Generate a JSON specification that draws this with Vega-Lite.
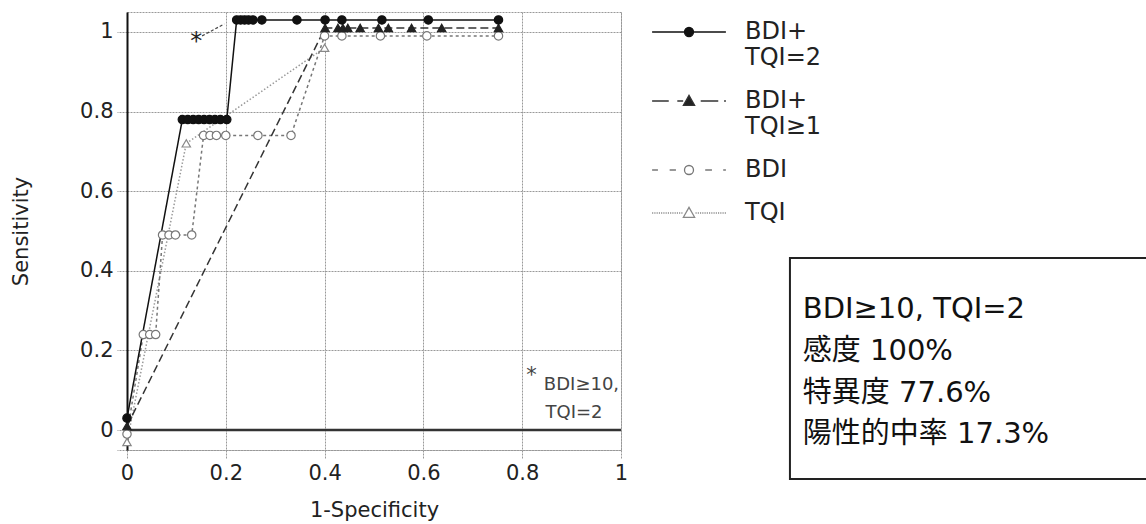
{
  "$schema": "https://vega.github.io/schema/vega-lite/v6.json",
  "width": 494,
  "height": 438,
  "autosize": {"type": "none"},
  "padding": {"left": 127, "top": 12, "right": 525, "bottom": 74},
  "background": "white",
  "config": {
    "view": {"stroke": "#999", "strokeDash": [2, 1], "strokeWidth": 1},
    "font": "DejaVu Sans"
  },
  "datasets": {
    "roc": [
      {"series": "TQI", "x": 0, "y": -0.03},
      {"series": "TQI", "x": 0.12, "y": 0.72},
      {"series": "TQI", "x": 0.4, "y": 0.96},
      {"series": "BDI", "x": 0, "y": -0.01},
      {"series": "BDI", "x": 0.033, "y": 0.24},
      {"series": "BDI", "x": 0.046, "y": 0.24},
      {"series": "BDI", "x": 0.058, "y": 0.24},
      {"series": "BDI", "x": 0.072, "y": 0.49},
      {"series": "BDI", "x": 0.085, "y": 0.49},
      {"series": "BDI", "x": 0.098, "y": 0.49},
      {"series": "BDI", "x": 0.131, "y": 0.49},
      {"series": "BDI", "x": 0.155, "y": 0.74},
      {"series": "BDI", "x": 0.168, "y": 0.74},
      {"series": "BDI", "x": 0.181, "y": 0.74},
      {"series": "BDI", "x": 0.2, "y": 0.74},
      {"series": "BDI", "x": 0.265, "y": 0.74},
      {"series": "BDI", "x": 0.332, "y": 0.74},
      {"series": "BDI", "x": 0.4, "y": 0.99},
      {"series": "BDI", "x": 0.435, "y": 0.99},
      {"series": "BDI", "x": 0.513, "y": 0.99},
      {"series": "BDI", "x": 0.607, "y": 0.99},
      {"series": "BDI", "x": 0.752, "y": 0.99},
      {"series": "BDI+TQI≥1", "x": 0, "y": 0.01},
      {"series": "BDI+TQI≥1", "x": 0.401, "y": 1.01},
      {"series": "BDI+TQI≥1", "x": 0.427, "y": 1.01},
      {"series": "BDI+TQI≥1", "x": 0.437, "y": 1.01},
      {"series": "BDI+TQI≥1", "x": 0.447, "y": 1.01},
      {"series": "BDI+TQI≥1", "x": 0.472, "y": 1.01},
      {"series": "BDI+TQI≥1", "x": 0.509, "y": 1.01},
      {"series": "BDI+TQI≥1", "x": 0.529, "y": 1.01},
      {"series": "BDI+TQI≥1", "x": 0.576, "y": 1.01},
      {"series": "BDI+TQI≥1", "x": 0.637, "y": 1.01},
      {"series": "BDI+TQI≥1", "x": 0.752, "y": 1.01},
      {"series": "BDI+TQI=2", "x": 0, "y": 0.03},
      {"series": "BDI+TQI=2", "x": 0.112, "y": 0.78},
      {"series": "BDI+TQI=2", "x": 0.123, "y": 0.78},
      {"series": "BDI+TQI=2", "x": 0.134, "y": 0.78},
      {"series": "BDI+TQI=2", "x": 0.145, "y": 0.78},
      {"series": "BDI+TQI=2", "x": 0.156, "y": 0.78},
      {"series": "BDI+TQI=2", "x": 0.167, "y": 0.78},
      {"series": "BDI+TQI=2", "x": 0.178, "y": 0.78},
      {"series": "BDI+TQI=2", "x": 0.189, "y": 0.78},
      {"series": "BDI+TQI=2", "x": 0.202, "y": 0.78},
      {"series": "BDI+TQI=2", "x": 0.222, "y": 1.03},
      {"series": "BDI+TQI=2", "x": 0.23, "y": 1.03},
      {"series": "BDI+TQI=2", "x": 0.238, "y": 1.03},
      {"series": "BDI+TQI=2", "x": 0.246, "y": 1.03},
      {"series": "BDI+TQI=2", "x": 0.255, "y": 1.03},
      {"series": "BDI+TQI=2", "x": 0.273, "y": 1.03},
      {"series": "BDI+TQI=2", "x": 0.344, "y": 1.03},
      {"series": "BDI+TQI=2", "x": 0.401, "y": 1.03},
      {"series": "BDI+TQI=2", "x": 0.435, "y": 1.03},
      {"series": "BDI+TQI=2", "x": 0.516, "y": 1.03},
      {"series": "BDI+TQI=2", "x": 0.61, "y": 1.03},
      {"series": "BDI+TQI=2", "x": 0.752, "y": 1.03}
    ],
    "zero": [
      {"y": 0}
    ],
    "starline": [
      {"x": 0.152, "y": 0.99},
      {"x": 0.197, "y": 1.02}
    ],
    "startext": [
      {"x": 0.14, "y": 0.975, "t": "*"}
    ],
    "note": [
      {"x": 0.819, "y": 0.135, "t": "*", "s": 21},
      {"x": 0.92, "y": 0.113, "t": "BDI≥10,", "s": 18},
      {"x": 0.905, "y": 0.043, "t": "TQI=2", "s": 18}
    ],
    "box": [
      {"x": 1.342, "x2": 2.1, "y": 0.432, "y2": -0.123}
    ],
    "boxtext": [
      {"x": 1.368, "y": 0.303, "t": "BDI≥10, TQI=2"},
      {"x": 1.368, "y": 0.198, "t": "感度 100%"},
      {"x": 1.368, "y": 0.094, "t": "特異度 77.6%"},
      {"x": 1.368, "y": -0.01, "t": "陽性的中率 17.3%"}
    ]
  },
  "layer": [
    {
      "data": {"name": "roc"},
      "mark": {"type": "line", "strokeWidth": 1.5},
      "encoding": {
        "x": {
          "field": "x", "type": "quantitative",
          "scale": {"domain": [0, 1], "nice": false, "zero": false},
          "axis": {
            "title": "1-Specificity",
            "values": [0, 0.2, 0.4, 0.6, 0.8, 1],
            "format": "~g",
            "domain": false,
            "grid": true, "gridColor": "#999", "gridDash": [2, 1], "gridWidth": 1,
            "ticks": true, "tickColor": "#999", "tickDash": [2, 1], "tickSize": 8,
            "labelFont": "DejaVu Sans", "labelFontSize": 21, "labelColor": "#222",
            "labelPadding": 4, "labelFlush": false, "labelOverlap": false,
            "titleFont": "DejaVu Sans", "titleFontSize": 21, "titleFontWeight": "normal",
            "titleColor": "#222", "titlePadding": 16
          }
        },
        "y": {
          "field": "y", "type": "quantitative",
          "scale": {"domain": [-0.05, 1.05], "nice": false, "zero": false},
          "axis": {
            "title": "Sensitivity",
            "values": [-0.05, 0, 0.2, 0.4, 0.6, 0.8, 1],
            "labelExpr": "datum.value < 0 ? '' : format(datum.value, '~g')",
            "domain": true, "domainColor": "#111", "domainWidth": 2,
            "grid": true, "gridColor": "#999", "gridDash": [2, 1], "gridWidth": 1,
            "ticks": true, "tickColor": "#999", "tickDash": [2, 1], "tickSize": 10,
            "labelFont": "DejaVu Sans", "labelFontSize": 21, "labelColor": "#222",
            "labelPadding": 4, "labelFlush": false, "labelOverlap": false,
            "titleFont": "DejaVu Sans", "titleFontSize": 21, "titleFontWeight": "normal",
            "titleColor": "#222", "titlePadding": 48
          }
        },
        "stroke": {
          "field": "series", "type": "nominal",
          "scale": {"domain": ["BDI+TQI=2", "BDI+TQI≥1", "BDI", "TQI"], "range": ["#111", "#333", "#777", "#999"]},
          "legend": null
        },
        "strokeDash": {
          "field": "series", "type": "nominal",
          "scale": {"domain": ["BDI+TQI=2", "BDI+TQI≥1", "BDI", "TQI"], "range": [[1, 0], [8, 4], [3, 3], [1.5, 2]]},
          "legend": null
        }
      }
    },
    {
      "data": {"name": "zero"},
      "mark": {"type": "rule", "stroke": "#333", "strokeWidth": 2.5},
      "encoding": {"y": {"field": "y", "type": "quantitative"}}
    },
    {
      "data": {"name": "roc"},
      "mark": {"type": "point", "opacity": 1, "filled": true, "size": 70, "strokeWidth": 1.2},
      "encoding": {
        "x": {"field": "x", "type": "quantitative"},
        "y": {"field": "y", "type": "quantitative"},
        "shape": {
          "field": "series", "type": "nominal",
          "scale": {"domain": ["BDI+TQI=2", "BDI+TQI≥1", "BDI", "TQI"], "range": ["circle", "triangle-up", "circle", "triangle-up"]},
          "legend": null
        },
        "fill": {
          "field": "series", "type": "nominal",
          "scale": {"domain": ["BDI+TQI=2", "BDI+TQI≥1", "BDI", "TQI"], "range": ["#111", "#222", "#fff", "#fff"]},
          "legend": null
        },
        "stroke": {
          "field": "series", "type": "nominal",
          "scale": {"domain": ["BDI+TQI=2", "BDI+TQI≥1", "BDI", "TQI"], "range": ["#111", "#222", "#777", "#888"]},
          "legend": null
        }
      }
    },
    {
      "data": {"values": []},
      "mark": {"type": "point", "opacity": 1, "filled": true},
      "encoding": {
        "shape": {
          "field": "series", "type": "nominal",
          "scale": {
            "domain": ["BDI+TQI=2", "BDI+TQI≥1", "BDI", "TQI"],
            "range": [
              "M-8.2,0L-1,0M1,0L8.2,0M1,0A1,1,0,1,1,-1,0A1,1,0,1,1,1,0Z",
              "M-8.2,0L-4.5,0M-2.6,0L-1.3,0M2.6,0L6.5,0M7.8,0L8.2,0M0,-1.25L1.25,0.95L-1.25,0.95Z",
              "M-8.2,0L-6.9,0M-4.3,0L-2.9,0M3.6,0L5.1,0M7.6,0L8.2,0M1,0A1,1,0,1,1,-1,0A1,1,0,1,1,1,0Z",
              "M-8.2,0L-7.95,0M-7.7,0L-7.45,0M-7.2,0L-6.95,0M-6.7,0L-6.45,0M-6.2,0L-5.95,0M-5.7,0L-5.45,0M-5.2,0L-4.95,0M-4.7,0L-4.45,0M-4.2,0L-3.95,0M-3.7,0L-3.45,0M-3.2,0L-2.95,0M-2.7,0L-2.45,0M-2.2,0L-1.95,0M-1.7,0L-1.45,0M1.45,0L1.7,0M1.95,0L2.2,0M2.45,0L2.7,0M2.95,0L3.2,0M3.45,0L3.7,0M3.95,0L4.2,0M4.45,0L4.7,0M4.95,0L5.2,0M5.45,0L5.7,0M5.95,0L6.2,0M6.45,0L6.7,0M6.95,0L7.2,0M7.45,0L7.7,0M7.95,0L8.2,0M0,-1.25L1.25,0.95L-1.25,0.95Z"
            ]
          },
          "legend": {
            "orient": "none", "legendX": 550, "legendY": 8, "title": null, "padding": 0,
            "labelFont": "DejaVu Sans", "labelFontSize": 24, "labelColor": "#222",
            "labelOffset": 44, "labelLimit": 0, "symbolSize": 81, "symbolStrokeWidth": 1.3,
            "symbolFillColor": "#fff", "rowPadding": 19,
            "labelExpr": "datum.label == 'BDI' || datum.label == 'TQI' ? datum.label : [slice(datum.label, 0, 4), slice(datum.label, 4)]"
          }
        },
        "fill": {
          "field": "series", "type": "nominal",
          "scale": {"domain": ["BDI+TQI=2", "BDI+TQI≥1", "BDI", "TQI"], "range": ["#111", "#222", "#fff", "#fff"]},
          "legend": {
            "orient": "none", "legendX": 550, "legendY": 8, "title": null, "padding": 0,
            "labelFont": "DejaVu Sans", "labelFontSize": 24, "labelColor": "#222",
            "labelOffset": 44, "labelLimit": 0, "symbolSize": 81, "symbolStrokeWidth": 1.3,
            "symbolFillColor": "#fff", "rowPadding": 19,
            "labelExpr": "datum.label == 'BDI' || datum.label == 'TQI' ? datum.label : [slice(datum.label, 0, 4), slice(datum.label, 4)]"
          }
        },
        "stroke": {
          "field": "series", "type": "nominal",
          "scale": {"domain": ["BDI+TQI=2", "BDI+TQI≥1", "BDI", "TQI"], "range": ["#111", "#333", "#777", "#888"]},
          "legend": {
            "orient": "none", "legendX": 550, "legendY": 8, "title": null, "padding": 0,
            "labelFont": "DejaVu Sans", "labelFontSize": 24, "labelColor": "#222",
            "labelOffset": 44, "labelLimit": 0, "symbolSize": 81, "symbolStrokeWidth": 1.3,
            "symbolFillColor": "#fff", "rowPadding": 19,
            "labelExpr": "datum.label == 'BDI' || datum.label == 'TQI' ? datum.label : [slice(datum.label, 0, 4), slice(datum.label, 4)]"
          }
        }
      }
    },
    {
      "data": {"name": "starline"},
      "mark": {"type": "line", "stroke": "#444", "strokeWidth": 1.2, "strokeDash": [3, 2]},
      "encoding": {
        "x": {"field": "x", "type": "quantitative"},
        "y": {"field": "y", "type": "quantitative"}
      }
    },
    {
      "data": {"name": "startext"},
      "mark": {"type": "text", "font": "DejaVu Sans", "fontSize": 24, "color": "#222", "align": "center", "baseline": "middle"},
      "encoding": {
        "x": {"field": "x", "type": "quantitative"},
        "y": {"field": "y", "type": "quantitative"},
        "text": {"field": "t"}
      }
    },
    {
      "data": {"name": "note"},
      "mark": {"type": "text", "font": "DejaVu Sans", "color": "#444", "align": "center", "baseline": "middle"},
      "encoding": {
        "x": {"field": "x", "type": "quantitative"},
        "y": {"field": "y", "type": "quantitative"},
        "text": {"field": "t"},
        "size": {"field": "s", "type": "quantitative", "scale": null}
      }
    },
    {
      "data": {"name": "box"},
      "mark": {"type": "rect", "fill": "white", "stroke": "#222", "strokeWidth": 2},
      "encoding": {
        "x": {"field": "x", "type": "quantitative"},
        "x2": {"field": "x2"},
        "y": {"field": "y", "type": "quantitative"},
        "y2": {"field": "y2"}
      }
    },
    {
      "data": {"name": "boxtext"},
      "mark": {"type": "text", "font": "DejaVu Sans, Noto Sans CJK JP", "fontSize": 29, "color": "#111", "align": "left", "baseline": "middle"},
      "encoding": {
        "x": {"field": "x", "type": "quantitative"},
        "y": {"field": "y", "type": "quantitative"},
        "text": {"field": "t"}
      }
    }
  ],
  "resolve": {
    "scale": {"stroke": "independent", "fill": "independent", "shape": "independent", "strokeDash": "independent"}
  }
}
